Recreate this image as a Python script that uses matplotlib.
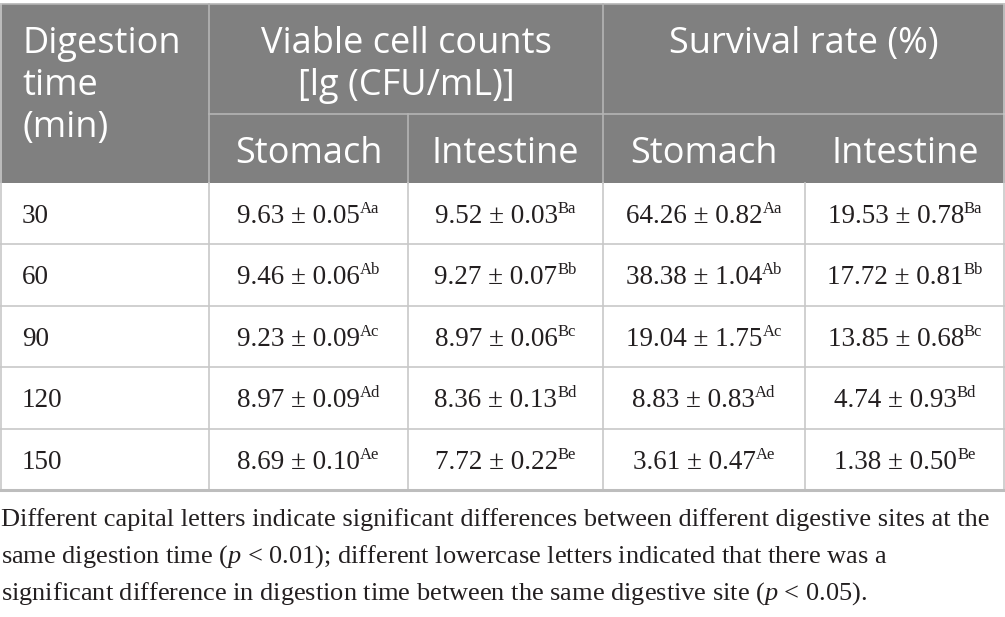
import matplotlib
matplotlib.use("Agg")
import matplotlib.pyplot as plt
from matplotlib.patches import Rectangle

plt.rcParams['mathtext.fontset'] = 'custom'
plt.rcParams['mathtext.rm'] = 'Liberation Serif'
plt.rcParams['mathtext.it'] = 'Liberation Serif:italic'

# données du tableau
temps = ['30', '60', '90', '120', '150']
estomac_ufc = ['9.63 ± 0.05', '9.46 ± 0.06', '9.23 ± 0.09', '8.97 ± 0.09', '8.69 ± 0.10']
estomac_ufc_sig = ['Aa', 'Ab', 'Ac', 'Ad', 'Ae']
intestin_ufc = ['9.52 ± 0.03', '9.27 ± 0.07', '8.97 ± 0.06', '8.36 ± 0.13', '7.72 ± 0.22']
intestin_ufc_sig = ['Ba', 'Bb', 'Bc', 'Bd', 'Be']
estomac_survie = ['64.26 ± 0.82', '38.38 ± 1.04', '19.04 ± 1.75', '8.83 ± 0.83', '3.61 ± 0.47']
estomac_survie_sig = ['Aa', 'Ab', 'Ac', 'Ad', 'Ae']
intestin_survie = ['19.53 ± 0.78', '17.72 ± 0.81', '13.85 ± 0.68', '4.74 ± 0.93', '1.38 ± 0.50']
intestin_survie_sig = ['Ba', 'Bb', 'Bc', 'Bd', 'Be']

entete_temps = ['Digestion', 'time', '(min)']
entete_ufc = ['Viable cell counts', '[lg (CFU/mL)]']
entete_survie = ['Survival rate (%)']
entete_2 = ['Stomach', 'Intestine', 'Stomach', 'Intestine']
note = ['Different capital letters indicate significant differences between different digestive sites at the',
        'same digestion time ($\\mathit{p}$ < 0.01); different lowercase letters indicated that there was a',
        'significant difference in digestion time between the same digestive site ($\\mathit{p}$ < 0.05).']

# mise en page (pixels)
W, H = 1005, 617
cols = [0, 209, 408, 603, 805, 1005]
haut, milieu, bas_entete = 4, 114, 183
h_ligne = 61.4
gris = '#808080'
trait_entete = '#b4b4b4'
trait = '#c8c8c8'
encre = '#231f20'

fig = plt.figure(figsize=(W / 100, H / 100), dpi=100)
ax = fig.add_axes([0, 0, 1, 1])
ax.set_xlim(0, W)
ax.set_ylim(H, 0)
ax.axis('off')
rend = fig.canvas.get_renderer()

ax.add_patch(Rectangle((0, haut), W, bas_entete - haut, facecolor=gris, edgecolor='none'))

bas = bas_entete + h_ligne * len(temps)
# traits de l'entête
ax.plot([0, W], [haut, haut], color=trait_entete, lw=1.2)
for x in [cols[1], cols[3]]:
    ax.plot([x, x], [haut, bas_entete], color=trait_entete, lw=1.2)
ax.plot([cols[2], cols[2]], [milieu, bas_entete], color=trait_entete, lw=1.2)
ax.plot([cols[1], W], [milieu, milieu], color=trait_entete, lw=1.2)
# traits du corps
for x in cols[1:-1]:
    ax.plot([x, x], [bas_entete, bas], color=trait, lw=1.2)
for x in [0.6, W - 0.6]:
    ax.plot([x, x], [haut, bas], color=trait, lw=1.2)
for i in range(1, len(temps)):
    y = bas_entete + h_ligne * i
    ax.plot([0, W], [y, y], color=trait, lw=1.2)
ax.plot([0, W], [bas, bas], color='#bdbdbd', lw=2.2)

# entête
ent = dict(color='white', fontsize=26, family='Open Sans', va='baseline')
for k, t in enumerate(entete_temps):
    ax.text(22, 53 + 42 * k, t, ha='left', **ent)
for k, t in enumerate(entete_ufc):
    ax.text((cols[1] + cols[3]) / 2, 53 + 42 * k, t, ha='center', **ent)
for k, t in enumerate(entete_survie):
    ax.text((cols[3] + cols[5]) / 2, 53 + 42 * k, t, ha='center', **ent)
for j, t in enumerate(entete_2):
    ax.text((cols[j + 1] + cols[j + 2]) / 2, 163, t, ha='center', **ent)

# corps
def cellule(xc, yb, val, sig):
    t = ax.text(0, yb, val, ha='left', va='baseline', fontsize=19.5,
                family='Liberation Serif', color=encre)
    s = ax.text(0, yb - 10, sig, ha='left', va='baseline', fontsize=12,
                family='Liberation Serif', color=encre)
    w1 = t.get_window_extent(rend).width
    w2 = s.get_window_extent(rend).width
    x0 = xc - (w1 + w2) / 2
    t.set_x(x0)
    s.set_x(x0 + w1)

colonnes = [(estomac_ufc, estomac_ufc_sig), (intestin_ufc, intestin_ufc_sig),
            (estomac_survie, estomac_survie_sig), (intestin_survie, intestin_survie_sig)]
for i, t in enumerate(temps):
    yb = bas_entete + h_ligne * i + 40
    ax.text(22, yb, t, ha='left', va='baseline', fontsize=19.5,
            family='Liberation Serif', color=encre)
    for j, (vals, sig) in enumerate(colonnes):
        cellule((cols[j + 1] + cols[j + 2]) / 2, yb, vals[i], sig[i])

for k, ligne in enumerate(note):
    ax.text(1, 526 + 37 * k, ligne, ha='left', va='baseline', fontsize=19,
            family='Liberation Serif', color=encre)

fig.savefig('out.png', dpi=100, facecolor='white')
